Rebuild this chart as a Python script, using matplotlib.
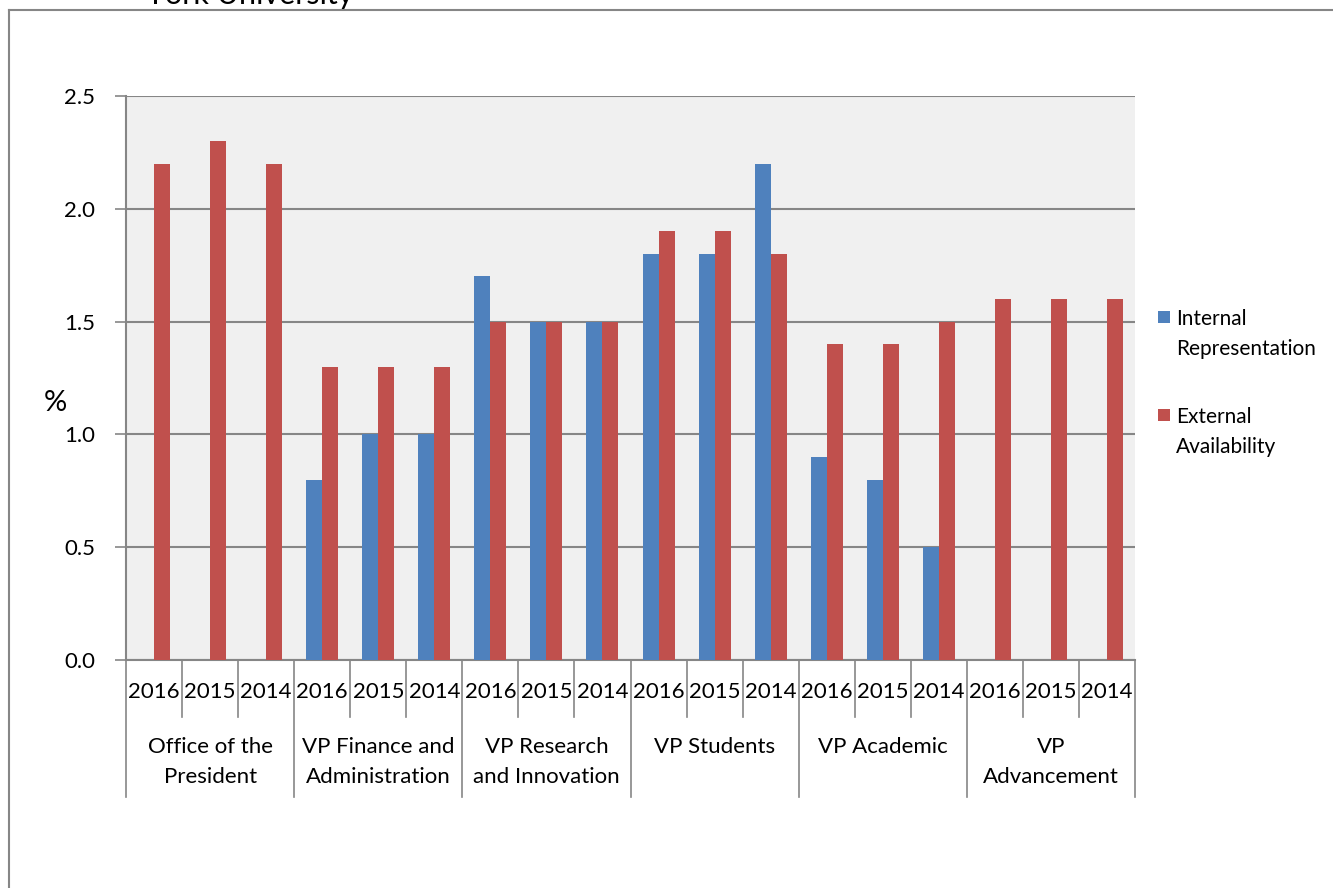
import matplotlib
matplotlib.use("Agg")
import matplotlib.pyplot as plt
import matplotlib.transforms as mtrans
from matplotlib.patches import Rectangle
from matplotlib.lines import Line2D
import numpy as np

plt.rcParams['font.family'] = ['Lato', 'DejaVu Sans']

groups = ["Office of the\nPresident", "VP Finance and\nAdministration", "VP Research\nand Innovation",
          "VP Students", "VP Academic", "VP\nAdvancement"]
years = ["2016", "2015", "2014"]
internal = [0, 0, 0,
            0.8, 1.0, 1.0,
            1.7, 1.5, 1.5,
            1.8, 1.8, 2.2,
            0.9, 0.8, 0.5,
            0, 0, 0]
external = [2.2, 2.3, 2.2,
            1.3, 1.3, 1.3,
            1.5, 1.5, 1.5,
            1.9, 1.9, 1.8,
            1.4, 1.4, 1.5,
            1.6, 1.6, 1.6]
yticks = [0.0, 0.5, 1.0, 1.5, 2.0, 2.5]
series_names = ["Internal\nRepresentation", "External\nAvailability"]
title = "York University"

W, H = 1333, 888
fig = plt.figure(figsize=(W / 100, H / 100), dpi=100)
fig.patch.set_facecolor('white')

L, R, T, B = 126, 1135, 96, 660
ax = fig.add_axes([L / W, 1 - B / H, (R - L) / W, (B - T) / H])
ax.set_facecolor('#F0F0F0')

n = len(external)
x = np.arange(n)
bw = 0.285
blue = '#4F81BD'
red = '#C0504D'
ax.bar(x - bw / 2, internal, bw, color=blue, zorder=3, label=series_names[0])
ax.bar(x + bw / 2, external, bw, color=red, zorder=3, label=series_names[1])

ax.set_xlim(-0.5, n - 0.5)
ax.set_ylim(0, 2.5)
ax.set_yticks(yticks)
ax.set_yticklabels([f"{v:.1f}" for v in yticks], fontsize=16)
ax.yaxis.grid(True, color='#868686', linewidth=1.5, zorder=1)
ax.tick_params(axis='y', length=8, width=1.2, color='#868686', pad=14)
ax.set_xticks([])
for s in ['top', 'right']:
    ax.spines[s].set_visible(False)
for s in ['left', 'bottom']:
    ax.spines[s].set_color('#868686')
    ax.spines[s].set_linewidth(1.5)

fig.text(55 / W, 1 - 403 / H, '%', ha='center', va='center', fontsize=21)

trans = mtrans.blended_transform_factory(ax.transData, ax.transAxes)
ah = B - T
y_year = -(717 - B) / ah
y_grp = -(797 - B) / ah
for k in range(n + 1):
    xb = k - 0.5
    yb = y_grp if k % 3 == 0 else y_year
    ax.add_line(Line2D([xb, xb], [0, yb], transform=trans, color='#868686',
                       linewidth=1.2, clip_on=False))
for i in range(n):
    ax.text(i, -(692 - B) / ah, years[i % 3], transform=trans, ha='center', va='center',
            fontsize=16)
for g, name in enumerate(groups):
    ax.text(3 * g + 1, -(737 - B) / ah, name, transform=trans, ha='center', va='top',
            fontsize=16, linespacing=1.62)

# outer chart border
fig.add_artist(Line2D([9 / W, 9 / W], [0, 1 - 10 / H], color='#868686', linewidth=1.5))
fig.add_artist(Line2D([9 / W, 1], [1 - 10 / H, 1 - 10 / H], color='#868686', linewidth=1.5))

fig.text(250 / W, 1 - 4 / H, title, ha='center', va='baseline', fontsize=22)

# legend (manual, marker aligned with first text line)
for j, (name, col) in enumerate(zip(series_names, [blue, red])):
    yc = 317 + j * 98
    fig.add_artist(Rectangle((1158 / W, 1 - (yc + 6) / H), 12 / W, 12 / H,
                             facecolor=col, edgecolor='none', transform=fig.transFigure))
    fig.text(1176 / W, 1 - (yc - 8) / H, name, ha='left', va='top', fontsize=15,
             linespacing=1.65)

fig.savefig('out.png', dpi=100)
